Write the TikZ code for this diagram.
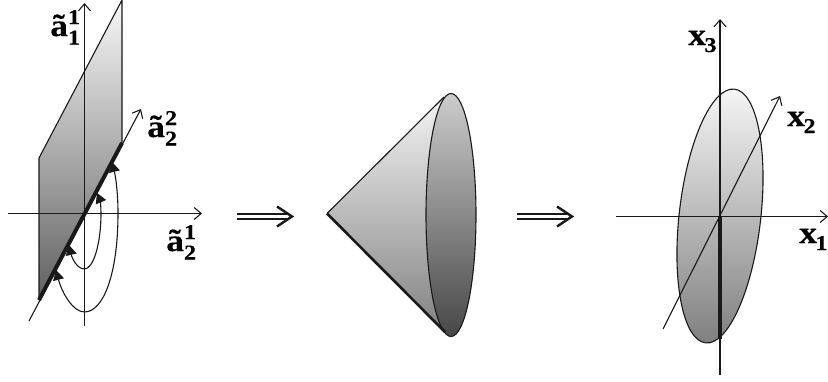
\documentclass[tikz,border=0pt]{standalone}
\usepackage{fontspec}
\setmainfont[BoldFeatures={FakeStretch=1.15,FakeBold=0.3}]{Liberation Serif}
\usetikzlibrary{arrows.meta}
\newcommand{\lab}[3]{{\fontsize{31}{31}\selectfont\bfseries #1\raisebox{12pt}{\rlap{\fontsize{21}{21}\selectfont #2}}\raisebox{-8.5pt}{\fontsize{21}{21}\selectfont #3}}}
\newcommand{\labs}[2]{{\fontsize{31}{31}\selectfont\bfseries #1\kern-1.5pt\raisebox{-7pt}{\fontsize{21}{21}\selectfont #2}}}
\tikzset{
  axisline/.style={line width=1.1pt,draw=black!90},
  axisarrow/.style={axisline,-{Straight Barb[length=7pt,width=12pt,line width=1.1pt]}},
  outline/.style={line width=1.1pt,draw=black!90,line join=round},
  heavy/.style={line width=4pt,draw=black!90},
  looparrow/.style={line width=1.1pt,draw=black!90,-{Triangle[length=10pt,width=11pt]}},
  implyline/.style={line width=2pt,draw=black!90},
  implyhead/.style={line width=2.4pt,draw=black!90,line join=miter},
  tag/.style={inner sep=0pt,anchor=base west}
}
\begin{document}
\begin{tikzpicture}[x=1pt,y=-1pt]
\useasboundingbox (0,0) rectangle (828,381);
% --- left panel
\coordinate (p1) at (39,158);
\coordinate (p2) at (122,0);
\coordinate (p3) at (122,143);
\coordinate (p4) at (39,300);
\shade[top color=white!97!black,middle color=black!27,bottom color=black!62] (p1)--(p2)--(p3)--(p4)--cycle;
\draw[outline] (p4)--(p1)--(p2)--(p3);
\coordinate (vb) at (84.5,326);
\coordinate (vt) at (84.5,3);
\coordinate (hl) at (8,213.5);
\coordinate (hr) at (202,213.5);
\coordinate (db) at (29,321);
\coordinate (dt) at (141,109);
\draw[axisarrow] (vb)--(vt);
\draw[axisarrow] (hl)--(hr);
\draw[axisarrow] (db)--(dt);
\draw[heavy] (p4)--(p3);
\coordinate (i0) at (97,193);
\coordinate (i1) at (101,213);
\coordinate (i2) at (84.5,269);
\coordinate (i3) at (69,245);
\coordinate (o0) at (112,162);
\coordinate (o1) at (118,213);
\coordinate (o2) at (84.5,312);
\coordinate (o3) at (56,270);
\draw[looparrow] (i2) .. controls (93,269) and (101,245) .. (i1) .. controls (101,206) and (100,200) .. (i0);
\draw[looparrow] (i2) .. controls (77,269) and (72,258) .. (i3);
\draw[looparrow] (o2) .. controls (103,312) and (118,275) .. (o1) .. controls (118,195) and (116,178) .. (o0);
\draw[looparrow] (o2) .. controls (73,312) and (62,293) .. (o3);
\node[tag] (t1) at (50,36) {\lab{ã}{1}{1}};
\node[tag] (t2) at (147,137) {\lab{ã}{2}{2}};
\node[tag] (t3) at (166,251) {\lab{ã}{1}{2}};
% --- implication arrows
\foreach \n/\s/\e in {a/237/293,b/517/573}{
  \coordinate (\n s) at (\s,216.5);
  \coordinate (\n e) at (\e,216.5);
  \draw[implyline] ([yshift=2.4pt]\n s)--([yshift=2.4pt,xshift=-4pt]\n e);
  \draw[implyline] ([yshift=-2.4pt]\n s)--([yshift=-2.4pt,xshift=-4pt]\n e);
  \draw[implyhead] ([xshift=-16pt,yshift=10pt]\n e)--([xshift=-1pt]\n e)--([xshift=-16pt,yshift=-10pt]\n e);
}
% --- cone
\coordinate (apex) at (327,213.5);
\coordinate (ct) at (444,97);
\coordinate (cb) at (445,332);
\coordinate (cc) at (451,215);
\shade[top color=white!96!black,middle color=black!28,bottom color=black!50] (apex)--(ct)--(451,93.5)--(451,336.5)--(cb)--cycle;
\shade[top color=black!20,middle color=black!42,bottom color=black!72,draw=black!90,line width=1.1pt] (cc) ellipse [x radius=25,y radius=121.5];
\draw[outline] (apex)--(ct);
\draw[line width=2.6pt,draw=black!90] (apex)--(cb);
% --- right panel
\coordinate (ec) at (720,216);
\begin{scope}
  \clip[rotate around={-6.5:(ec)}] (ec) ellipse [x radius=40.8,y radius=127.7];
  \shade[top color=white!96!black,middle color=black!25,bottom color=black!50] (670,88) rectangle (770,344);
\end{scope}
\draw[outline,rotate around={-6.5:(ec)}] (ec) ellipse [x radius=40.8,y radius=127.7];
\coordinate (xvb) at (720,375);
\coordinate (xvt) at (720,19);
\coordinate (xhl) at (616,216.5);
\coordinate (xhr) at (828,216.5);
\coordinate (xdb) at (663,329);
\coordinate (xdt) at (780,96);
\draw[axisarrow] (xvb)--(xvt);
\draw[axisarrow] (xhl)--(xhr);
\draw[axisarrow] (xdb)--(xdt);
\coordinate (xh) at (720,339);
\draw[heavy] (ec)--(xh);
\node[tag] (x3) at (688,45) {\labs{x}{3}};
\node[tag] (x2) at (787,126) {\labs{x}{2}};
\node[tag] (x1) at (799,243) {\labs{x}{1}};
\end{tikzpicture}
\end{document}
